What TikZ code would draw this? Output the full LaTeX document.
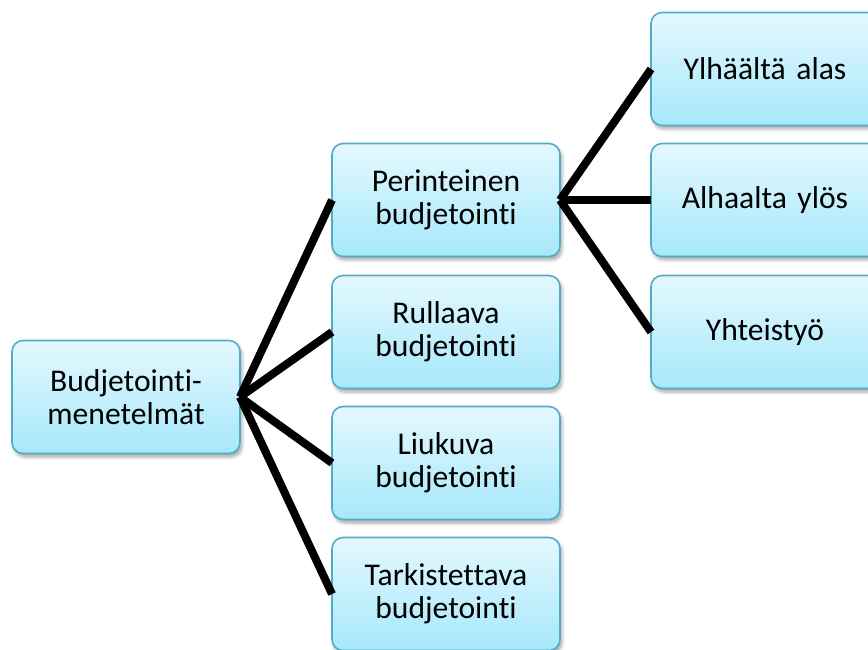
\documentclass[tikz,border=0pt]{standalone}
\usepackage{fontspec}
\setmainfont{Carlito}[Ligatures=NoCommon]
\usetikzlibrary{shapes.misc,shadows,shadows.blur}

\definecolor{boxtop}{HTML}{E4F8FE}
\definecolor{boxbottom}{HTML}{A6E8FB}
\definecolor{boxline}{HTML}{4EACC6}

\begin{document}
\begin{tikzpicture}[x=0.02cm,y=-0.02cm,
	method/.style={
		rectangle, rounded corners=0.22cm,
		minimum width=4.56cm, minimum height=2.26cm,
		draw=boxline, line width=0.9pt,
		top color=boxtop, bottom color=boxbottom,
		blur shadow={shadow xshift=0.04cm, shadow yshift=-0.07cm,
			shadow blur steps=6, shadow opacity=35},
		align=center, text width=4.3cm,
		font=\fontsize{18}{18.8}\selectfont,
		outer sep=0pt},
	branch/.style={line width=0.16cm, black}]
	\useasboundingbox (0,0) rectangle (868,649);
	\node[method] (root) at (126,397) {Budjetointi-\\menetelmät};
	\node[method] (perinteinen) at (446,200) {Perinteinen\\budjetointi};
	\node[method] (rullaava) at (446,332) {Rullaava\\budjetointi};
	\node[method] (liukuva) at (446,463) {Liukuva\\budjetointi};
	\node[method] (tarkistettava) at (446,594) {Tarkistettava\\budjetointi};
	\node[method] (ylhaalta) at (765,69) {Ylhäältä alas};
	\node[method] (alhaalta) at (765,200) {Alhaalta ylös};
	\node[method] (yhteistyo) at (765,332) {Yhteistyö};
	\draw[branch]
	(root.east) edge (perinteinen.west)
	(root.east) edge (rullaava.west)
	(root.east) edge (liukuva.west)
	(root.east) edge (tarkistettava.west)
	(perinteinen.east) edge (ylhaalta.west)
	(perinteinen.east) edge (alhaalta.west)
	(perinteinen.east) edge (yhteistyo.west)
	;
\end{tikzpicture}
\end{document}
